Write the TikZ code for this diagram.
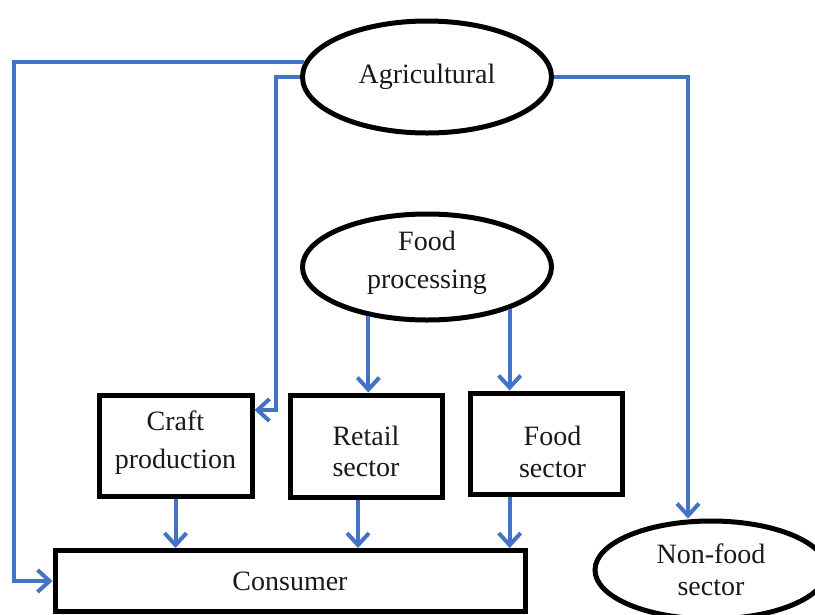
\documentclass[tikz,border=0pt]{standalone}
\usepackage{fontspec}
\setmainfont{Liberation Serif}
\usetikzlibrary{arrows.meta,shapes.geometric,calc}
\definecolor{flowblue}{HTML}{4472C4}
\begin{document}
\begin{tikzpicture}[x=1pt,y=-1pt,
  txt/.style={font=\fontsize{28}{32}\selectfont, align=center, text=black!90},
  oval/.style={txt, ellipse, draw=black, line width=5pt, inner sep=0pt},
  boxnode/.style={txt, rectangle, draw=black, line width=5pt, inner sep=0pt},
  arr/.style={draw=flowblue, line width=4pt, -{Straight Barb[length=12pt,width=22pt,line width=4pt]}}]
\useasboundingbox (0,0) rectangle (815,614);
\begin{scope}
\clip (0,0) rectangle (815,614);
\node[oval, minimum width=249pt, minimum height=112pt] (agri) at (427,77) {Agricultural};
\node[oval, minimum width=249pt, minimum height=106pt] (food) at (427,267) {};
\node[txt, font=\fontsize{28}{38}\selectfont] (foodtxt) at ([yshift=4pt]food.center) {Food\\processing};
\node[boxnode, minimum width=153pt, minimum height=101pt] (craft) at (175.5,446) {};
\node[txt, font=\fontsize{28}{38}\selectfont] (crafttxt) at ([yshift=3pt]craft.center) {Craft\\production};
\node[boxnode, minimum width=152pt, minimum height=102pt] (retail) at (366,446) {};
\node[txt, font=\fontsize{28}{31}\selectfont] (retailtxt) at ([yshift=-5pt]retail.center) {Retail\\sector};
\node[boxnode, minimum width=152pt, minimum height=101pt] (foodsec) at (546.5,443.5) {};
\node[txt] (foodsectxt) at ([xshift=6pt,yshift=-8pt]foodsec.center) {Food\\sector};
\node[boxnode, minimum width=470pt, minimum height=61pt] (consumer) at (290,581) {Consumer};
\node[oval, minimum width=232pt, minimum height=98pt] (nonfood) at (711,570) {Non-food\\sector};
\end{scope}
\coordinate (L) at (14,0);
\coordinate (M) at (276,0);
\coordinate (R) at (688,0);
\coordinate (XR) at (358,0);
\coordinate (c1) at ([yshift=-17pt]craft.north east);
% left long connector
\draw[arr] (agri.173) -| (L |- consumer.west) -- (consumer.west);
% to craft production
\draw[arr] (agri.west) -| (M |- c1) -- (c1);
% to non-food sector
\draw[arr] (agri.east) -| (R |- nonfood.north);
% food processing to retail and food sector
\draw[arr] (food.220) -- (food.220 |- retail.north);
\draw[arr] (food.-27) -- (food.-27 |- foodsec.north);
% to consumer
\draw[arr] (craft.south) -- (craft.south |- consumer.north);
\draw[arr] (XR |- retail.south) -- (XR |- consumer.north);
\draw[arr] (food.-27 |- foodsec.south) -- (food.-27 |- consumer.north);
\end{tikzpicture}
\end{document}
